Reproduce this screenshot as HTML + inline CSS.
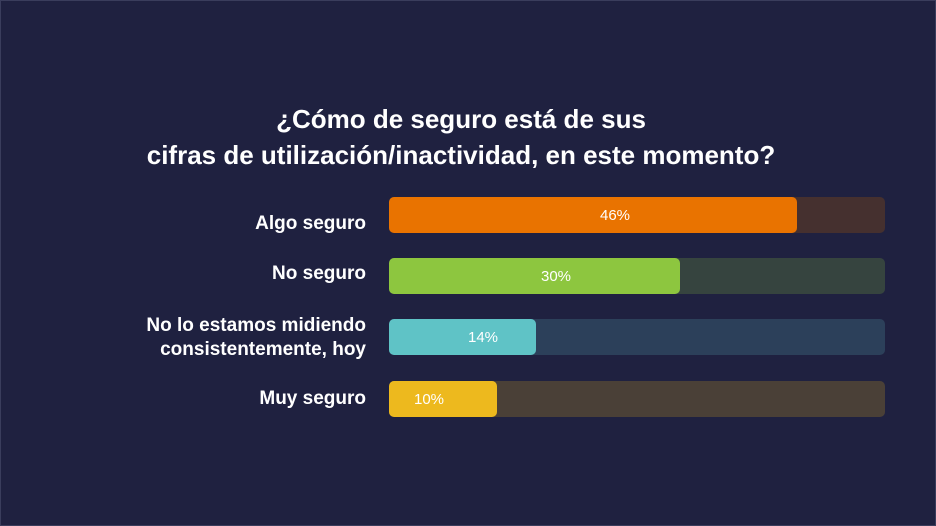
<!DOCTYPE html>
<html><head><meta charset="utf-8"><style>
html,body{margin:0;padding:0}
body{width:936px;height:526px;background:#1f2140;position:relative;overflow:hidden;font-family:"Liberation Sans",Arial,sans-serif;box-shadow:inset 0 0 0 1px #3a3d5c}
.t{position:absolute;left:0;width:922px;text-align:center;color:#fff;font-weight:bold;font-size:26px}
.lab{position:absolute;right:570px;color:#fff;font-weight:bold;font-size:19px;text-align:right;line-height:24px}
.bg{position:absolute;left:389px;width:496px;height:36px;border-radius:5px}
.fg{position:absolute;left:389px;height:36px;border-radius:5px}
.v{position:absolute;color:#fff;font-size:15px;transform:translateX(-50%);line-height:38px}
</style></head><body>
<div class="t" style="top:104px">¿Cómo de seguro está de sus</div>
<div class="t" style="top:140px">cifras de utilización/inactividad, en este momento?</div>

<div class="lab" style="top:212px">Algo seguro</div>
<div class="bg" style="top:197px;background:#45302f"></div>
<div class="fg" style="top:197px;width:408px;background:#e97300"></div>
<div class="v" style="top:197px;left:615px">46%</div>

<div class="lab" style="top:262px">No seguro</div>
<div class="bg" style="top:258px;background:#36443f"></div>
<div class="fg" style="top:258px;width:291px;background:#8dc63f"></div>
<div class="v" style="top:258px;left:556px">30%</div>

<div class="lab" style="top:314px">No lo estamos midiendo<br>consistentemente, hoy</div>
<div class="bg" style="top:319px;background:#2c405a"></div>
<div class="fg" style="top:319px;width:147px;background:#5fc3c6"></div>
<div class="v" style="top:319px;left:483px">14%</div>

<div class="lab" style="top:387px">Muy seguro</div>
<div class="bg" style="top:381px;background:#4a4037"></div>
<div class="fg" style="top:381px;width:108px;background:#edb91e"></div>
<div class="v" style="top:381px;left:429px">10%</div>
</body></html>
